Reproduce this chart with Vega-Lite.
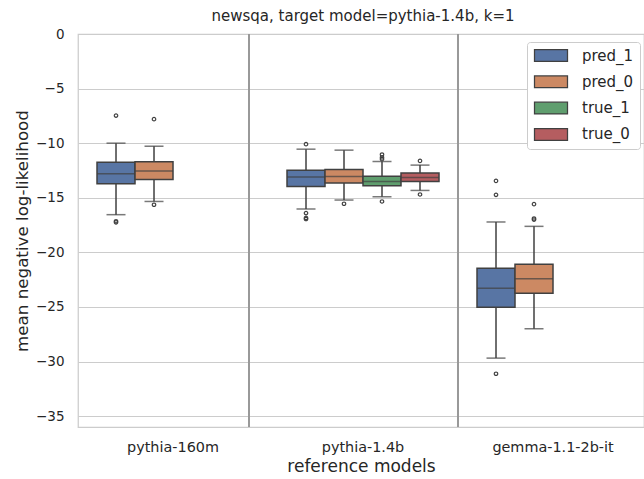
{
  "$schema": "https://vega.github.io/schema/vega-lite/v6.json",
  "width": 566,
  "height": 393,
  "autosize": {"type": "none"},
  "padding": {"left": 78, "top": 34, "right": 0, "bottom": 52},
  "background": "white",
  "config": {
    "font": "DejaVu Sans",
    "view": {"stroke": "#cccccc", "strokeWidth": 1.25},
    "axis": {"labelColor": "#262626", "titleColor": "#262626", "titleFontWeight": "normal", "ticks": false, "domain": false}
  },
  "title": {"text": "newsqa, target model=pythia-1.4b, k=1", "fontSize": 15, "fontWeight": "normal", "color": "#262626", "offset": 3, "dx": 2},
  "datasets": {
    "seps": [{"pos": 0.4}, {"pos": 1.5}],
    "boxes": [
      {"model": "pythia-160m", "hue": "pred_1", "lower": -16.55, "q1": -13.72, "median": -12.8, "q3": -11.74, "upper": -10.0},
      {"model": "pythia-160m", "hue": "pred_0", "lower": -15.34, "q1": -13.32, "median": -12.56, "q3": -11.71, "upper": -10.28},
      {"model": "pythia-1.4b", "hue": "pred_1", "lower": -16.03, "q1": -13.96, "median": -13.11, "q3": -12.47, "upper": -10.55},
      {"model": "pythia-1.4b", "hue": "pred_0", "lower": -15.21, "q1": -13.66, "median": -13.05, "q3": -12.41, "upper": -10.64},
      {"model": "pythia-1.4b", "hue": "true_1", "lower": -14.91, "q1": -13.9, "median": -13.51, "q3": -13.02, "upper": -11.68},
      {"model": "pythia-1.4b", "hue": "true_0", "lower": -14.33, "q1": -13.51, "median": -13.14, "q3": -12.74, "upper": -12.01},
      {"model": "gemma-1.1-2b-it", "hue": "pred_1", "lower": -29.69, "q1": -25.03, "median": -23.29, "q3": -21.46, "upper": -17.22},
      {"model": "gemma-1.1-2b-it", "hue": "pred_0", "lower": -27.0, "q1": -23.75, "median": -22.43, "q3": -21.1, "upper": -17.62}
    ],
    "outliers": [
      {"model": "pythia-160m", "hue": "pred_1", "value": -7.47},
      {"model": "pythia-160m", "hue": "pred_1", "value": -17.15},
      {"model": "pythia-160m", "hue": "pred_1", "value": -17.25},
      {"model": "pythia-160m", "hue": "pred_0", "value": -7.8},
      {"model": "pythia-160m", "hue": "pred_0", "value": -15.64},
      {"model": "pythia-1.4b", "hue": "pred_1", "value": -10.09},
      {"model": "pythia-1.4b", "hue": "pred_1", "value": -16.4},
      {"model": "pythia-1.4b", "hue": "pred_1", "value": -16.85},
      {"model": "pythia-1.4b", "hue": "pred_1", "value": -16.95},
      {"model": "pythia-1.4b", "hue": "pred_0", "value": -15.55},
      {"model": "pythia-1.4b", "hue": "true_1", "value": -11.04},
      {"model": "pythia-1.4b", "hue": "true_1", "value": -11.3},
      {"model": "pythia-1.4b", "hue": "true_1", "value": -11.46},
      {"model": "pythia-1.4b", "hue": "true_1", "value": -15.34},
      {"model": "pythia-1.4b", "hue": "true_0", "value": -11.62},
      {"model": "pythia-1.4b", "hue": "true_0", "value": -14.7},
      {"model": "gemma-1.1-2b-it", "hue": "pred_1", "value": -13.45},
      {"model": "gemma-1.1-2b-it", "hue": "pred_1", "value": -14.73},
      {"model": "gemma-1.1-2b-it", "hue": "pred_1", "value": -31.12},
      {"model": "gemma-1.1-2b-it", "hue": "pred_0", "value": -15.58},
      {"model": "gemma-1.1-2b-it", "hue": "pred_0", "value": -16.9},
      {"model": "gemma-1.1-2b-it", "hue": "pred_0", "value": -17.0}
    ]
  },
  "layer": [
    {
      "data": {"name": "seps"},
      "mark": {"type": "rule", "color": "#999999", "strokeWidth": 2},
      "encoding": {
        "x": {"field": "pos", "type": "quantitative", "scale": {"domain": [-0.5, 2.479], "nice": false, "zero": false}, "axis": null}
      }
    },
    {
      "data": {"name": "boxes"},
      "encoding": {
        "x": {
          "field": "model", "type": "nominal",
          "sort": ["pythia-160m", "pythia-1.4b", "gemma-1.1-2b-it"],
          "scale": {"domain": ["pythia-160m", "pythia-1.4b", "gemma-1.1-2b-it"], "paddingInner": 0.2, "paddingOuter": 0.0895, "align": 0.559},
          "axis": {"labelAngle": 0, "labelFontSize": 14.4, "labelPadding": 13, "title": "reference models", "titleFontSize": 17, "titlePadding": 5, "grid": false}
        },
        "xOffset": {
          "field": "hue", "type": "nominal",
          "scale": {"domain": ["pred_1", "pred_0", "true_1", "true_0"], "paddingInner": 0, "paddingOuter": 0}
        },
        "y": {
          "type": "quantitative",
          "scale": {"domain": [-36, 0], "nice": false, "zero": false},
          "axis": {"values": [-35, -30, -25, -20, -15, -10, -5, 0], "grid": true, "gridColor": "#cccccc", "gridWidth": 1.1, "labelFontSize": 13.5, "labelPadding": 14, "title": "mean negative log-likelihood", "titleFontSize": 16.7, "titlePadding": 4}
        }
      },
      "layer": [
        {
          "mark": {"type": "rule", "color": "#404040", "strokeWidth": 1.5},
          "encoding": {"y": {"field": "lower"}, "y2": {"field": "upper"}}
        },
        {
          "mark": {"type": "bar", "stroke": "#404040", "strokeWidth": 1.5},
          "encoding": {
            "y": {"field": "q1"}, "y2": {"field": "q3"},
            "color": {
              "field": "hue", "type": "nominal",
              "scale": {"domain": ["pred_1", "pred_0", "true_1", "true_0"], "range": ["#5875a4", "#cc8963", "#5f9e6e", "#b55d60"]},
              "legend": {
                "title": null, "orient": "none", "legendX": 449, "legendY": 8,
                "symbolType": "M-1,-0.98H4.5V0.98H-1Z", "symbolSize": 144,
                "symbolStrokeColor": "#404040", "symbolStrokeWidth": 1.25, "symbolOpacity": 1,
                "labelFontSize": 15, "labelColor": "#262626", "labelOffset": 34, "rowPadding": 9.3,
                "padding": 6, "strokeColor": "#cccccc", "fillColor": "white", "cornerRadius": 3
              }
            }
          }
        },
        {
          "mark": {"type": "tick", "color": "#404040", "thickness": 1.5, "size": 38},
          "encoding": {"y": {"field": "median"}}
        },
        {
          "mark": {"type": "tick", "color": "#404040", "thickness": 1.5, "size": 19},
          "encoding": {"y": {"field": "lower"}}
        },
        {
          "mark": {"type": "tick", "color": "#404040", "thickness": 1.5, "size": 19},
          "encoding": {"y": {"field": "upper"}}
        },
        {
          "data": {"name": "outliers"},
          "mark": {"type": "point", "shape": "circle", "filled": false, "stroke": "#404040", "strokeWidth": 1.2, "size": 12, "opacity": 1},
          "encoding": {"y": {"field": "value"}}
        }
      ]
    }
  ],
  "resolve": {"scale": {"x": "independent"}}
}
